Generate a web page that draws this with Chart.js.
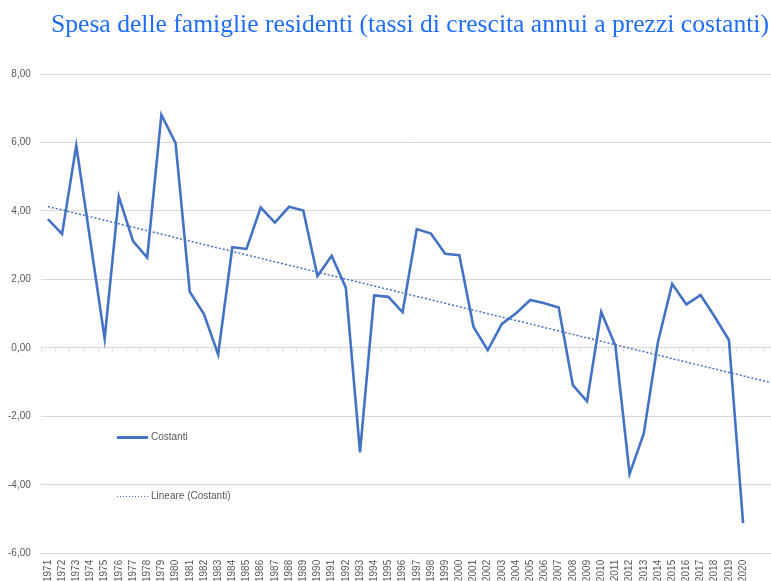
<!DOCTYPE html>
<html>
<head>
<meta charset="utf-8">
<script src="https://cdn.jsdelivr.net/npm/chart.js@4/dist/chart.umd.min.js"></script>
<style>
  body { margin: 0; background: #fff; overflow: hidden; }
  #wrap { position: relative; width: 771px; height: 581px; overflow: hidden; }
  #chart { position: absolute; left: -10px; top: 0; }
  #title { position: absolute; left: 51px; top: 11px; font: 25px/25px "Liberation Serif", serif;
           color: #1f6dfc; white-space: nowrap; transform-origin: 0 0; }
  .leg { position: absolute; left: 117px; font: 10px "Liberation Sans", sans-serif; color: #595959; }
  .leg span.mark { display: inline-block; width: 31px; vertical-align: middle; margin-right: 3px; }
</style>
</head>
<body>
<div id="wrap">
  <canvas id="chart" width="792" height="581"></canvas>
  <div id="title">Spesa delle famiglie residenti (tassi di crescita annui a prezzi costanti)</div>
  <div class="leg" style="top:431px"><span class="mark" style="height:2.5px;background:#4472c4"></span>Costanti</div>
  <div class="leg" style="top:490px"><span class="mark" style="height:1.5px;background:repeating-linear-gradient(to right,#4472c4 0 1.5px,transparent 1.5px 3px)"></span>Lineare (Costanti)</div>
</div>
<script>
// categories (last two slots are empty, the axis keeps running past 2020)
const years = []
for (let y = 1971; y <= 2020; y++) years.push(String(y))
years.push('', '')

// growth rates
const costanti = [
  3.76, 3.33, 5.91, 3.10, 0.27, 4.42, 3.12, 2.64, 6.81, 5.98,
  1.64, 0.99, -0.19, 2.94, 2.89, 4.10, 3.66, 4.12, 4.01, 2.10,
  2.69, 1.76, -3.05, 1.53, 1.49, 1.04, 3.47, 3.34, 2.75, 2.71,
  0.61, -0.07, 0.70, 1.01, 1.40, 1.30, 1.18, -1.09, -1.56, 1.05,
  0.06, -3.68, -2.50, 0.18, 1.87, 1.27, 1.54, 0.91, 0.23, -5.12
]

// trend line: only its two ends
const lineare = years.map(() => null)
lineare[0] = 4.13
lineare[years.length - 1] = -1.02

const yTicks = [-6, -4, -2, 0, 2, 4, 6, 8]

window.onload = function() {

    let title = document.getElementById('title')
    title.style.transform = 'scaleX(' + (718 / title.getBoundingClientRect().width) + ')'

    // small tick marks hanging under the zero line
    let zeroTicks = {
        id: 'zeroTicks',
        beforeDatasetsDraw(chart) {
            let ctx = chart.ctx, x = chart.scales.x, y = chart.scales.y
            let y0 = Math.round(y.getPixelForValue(0)) + 0.5
            let step = x.getPixelForValue(1) - x.getPixelForValue(0)
            ctx.save()
            ctx.strokeStyle = '#d9d9d9'
            ctx.lineWidth = 1
            ctx.beginPath()
            for (let i = 0; i <= years.length; i++) {
                let px = Math.round(x.getPixelForValue(0) - step / 2 + i * step) + 0.5
                ctx.moveTo(px, y0)
                ctx.lineTo(px, y0 + 3)
            }
            ctx.stroke()
            ctx.restore()
        }
    }

    new Chart(document.getElementById('chart'), {
        type: 'line',
        data: {
            labels: years,
            datasets: [{
                label: 'Costanti',
                data: costanti,
                borderColor: '#4472c4',
                borderWidth: 2.6,
                pointRadius: 0,
                tension: 0,
                borderJoinStyle: 'miter'
            }, {
                label: 'Lineare (Costanti)',
                data: lineare,
                borderColor: '#4472c4',
                borderWidth: 1.5,
                borderDash: [2, 2],
                pointRadius: 0,
                spanGaps: true
            }]
        },
        options: {
            responsive: false,
            animation: false,
            layout: { padding: { left: 8, right: 2.5, top: 74, bottom: 0.5 } },
            plugins: { legend: { display: false }, tooltip: { enabled: false } },
            scales: {
                x: {
                    offset: true,
                    grid: { display: false },
                    border: { display: false },
                    ticks: {
                        autoSkip: false, minRotation: 90, maxRotation: 90, padding: -1.5,
                        color: '#595959', font: { family: 'Liberation Sans', size: 10 }
                    }
                },
                y: {
                    min: -6, max: 8,
                    afterBuildTicks: (s) => { s.ticks = yTicks.map(v => ({ value: v })) },
                    grid: { color: '#d9d9d9', lineWidth: 1, drawTicks: false },
                    border: { display: false },
                    ticks: {
                        padding: 10, color: '#595959', font: { family: 'Liberation Sans', size: 10 },
                        callback: (v) => v.toFixed(2).replace('.', ',')
                    }
                }
            }
        },
        plugins: [zeroTicks]
    })
}
</script>
</body>
</html>
